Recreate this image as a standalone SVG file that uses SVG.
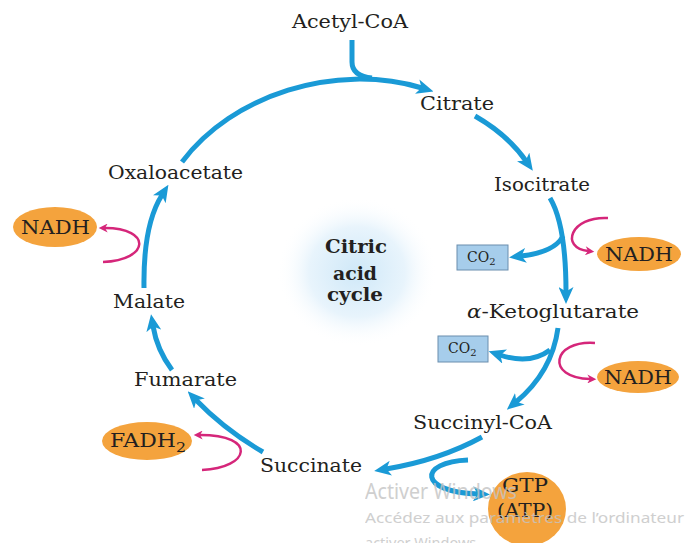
<svg xmlns="http://www.w3.org/2000/svg" width="687" height="543" viewBox="0 0 687 543">
<style>
.lbl{font-family:"DejaVu Serif","Liberation Serif",serif;font-size:18px;fill:#231f20}
.ctr{font-family:"DejaVu Serif","Liberation Serif",serif;font-size:19px;font-weight:bold;fill:#231f20}
.prod{font-family:"DejaVu Serif","Liberation Serif",serif;font-size:18px;fill:#231f20}
.co2t{font-family:"DejaVu Serif","Liberation Serif",serif;font-size:14px;fill:#231f20}
.ell{fill:#f4a33d}
.box{fill:#a6cdeb;stroke:#6a8eae;stroke-width:1}
.blue{fill:none;stroke:#1a9ad6;stroke-width:5;marker-end:url(#ab)}
.bluen{fill:none;stroke:#1a9ad6;stroke-width:5}
.mag{fill:none;stroke:#d5267a;stroke-width:2.5;marker-end:url(#am)}
.wm{font-family:"Noto Sans","Open Sans",sans-serif;fill:#c4c4c4;opacity:0.8}
</style>
<defs>
<marker id="ab" viewBox="0 0 17 15" refX="5" refY="7.5" markerWidth="17" markerHeight="15" markerUnits="userSpaceOnUse" orient="auto">
<path d="M0,0 L17,7.5 L0,15 L4.5,7.5 z" fill="#1a9ad6"/>
</marker>
<marker id="am" viewBox="0 0 10 10" refX="3" refY="5" markerWidth="10" markerHeight="9" markerUnits="userSpaceOnUse" orient="auto">
<path d="M0,0 L10,5 L0,10 L3,5 z" fill="#d5267a"/>
</marker>
<radialGradient id="glow" cx="0.5" cy="0.5" r="0.5">
<stop offset="0" stop-color="#cfe8f8"/>
<stop offset="0.6" stop-color="#e8f4fc"/>
<stop offset="1" stop-color="#ffffff" stop-opacity="0"/>
</radialGradient>
</defs>
<rect width="687" height="543" fill="#ffffff"/>
<ellipse cx="357" cy="272" rx="80" ry="75" fill="url(#glow)"/>

<g id="connectors">
<path class="blue" d="M182,162 C232,95 335,62 422,88"/>
<path class="bluen" d="M352,40 L352,62 Q352,76 372,78"/>
<path class="blue" d="M475,116 Q508,135 526,161"/>
<path class="blue" d="M550,198 Q566,225 566,292"/>
<path class="blue" d="M563,236 Q555,252 521,256"/>
<path class="blue" d="M558,328 Q552,372 516,402"/>
<path class="blue" d="M550,350 Q530,365 500,355"/>
<path class="blue" d="M482,437 Q440,460 386,469"/>
<path class="blue" d="M468,460 C418,462 418,492 478,494"/>
<path class="blue" d="M263,452 Q225,430 196,400"/>
<path class="blue" d="M172,370 Q157,350 153,326"/>
<path class="blue" d="M144,288 Q143,225 162,195"/>
<path class="mag" d="M103,262 C150,260 152,228 105,228"/>
<path class="mag" d="M608,218 C570,216 560,248 588,251"/>
<path class="mag" d="M595,343 C552,340 545,378 590,379"/>
<path class="mag" d="M202,470 C250,468 258,435 200,435"/>
</g>

<g id="center"><text class="ctr" x="325" y="253" textLength="62" lengthAdjust="spacingAndGlyphs">Citric</text><text class="ctr" x="333" y="280" textLength="44" lengthAdjust="spacingAndGlyphs">acid</text><text class="ctr" x="327" y="301" textLength="56" lengthAdjust="spacingAndGlyphs">cycle</text></g>

<g id="acetylcoa"><text class="lbl" x="292" y="28" textLength="116" lengthAdjust="spacingAndGlyphs">Acetyl-CoA</text></g>
<g id="citrate"><text class="lbl" x="420" y="110" textLength="74" lengthAdjust="spacingAndGlyphs">Citrate</text></g>
<g id="isocitrate"><text class="lbl" x="494" y="191" textLength="96" lengthAdjust="spacingAndGlyphs">Isocitrate</text></g>
<g id="ketoglutarate"><text class="lbl" x="467" y="318" textLength="172" lengthAdjust="spacingAndGlyphs"><tspan font-style="italic">α</tspan>-Ketoglutarate</text></g>
<g id="succinylcoa"><text class="lbl" x="413" y="429" textLength="139" lengthAdjust="spacingAndGlyphs">Succinyl-CoA</text></g>
<g id="succinate"><text class="lbl" x="260" y="472" textLength="102" lengthAdjust="spacingAndGlyphs">Succinate</text></g>
<g id="fumarate"><text class="lbl" x="134" y="386" textLength="103" lengthAdjust="spacingAndGlyphs">Fumarate</text></g>
<g id="malate"><text class="lbl" x="113" y="308" textLength="72" lengthAdjust="spacingAndGlyphs">Malate</text></g>
<g id="oxaloacetate"><text class="lbl" x="108" y="179" textLength="135" lengthAdjust="spacingAndGlyphs">Oxaloacetate</text></g>

<g id="nadh1"><ellipse class="ell" cx="55" cy="227" rx="42" ry="20"/><text class="prod" x="21" y="234" textLength="69" lengthAdjust="spacingAndGlyphs">NADH</text></g>
<g id="nadh2"><ellipse class="ell" cx="639" cy="254" rx="42" ry="17"/><text class="prod" x="605" y="261" textLength="68" lengthAdjust="spacingAndGlyphs">NADH</text></g>
<g id="nadh3"><ellipse class="ell" cx="638" cy="377" rx="41" ry="16"/><text class="prod" x="604" y="384" textLength="68" lengthAdjust="spacingAndGlyphs">NADH</text></g>
<g id="fadh2"><ellipse class="ell" cx="147" cy="441" rx="45" ry="19"/><text class="prod" x="110" y="447" textLength="76" lengthAdjust="spacingAndGlyphs">FADH<tspan font-size="13" dy="5">2</tspan></text></g>
<g id="gtp"><ellipse class="ell" cx="527" cy="509" rx="39" ry="37"/><text class="prod" x="502" y="492" textLength="46" lengthAdjust="spacingAndGlyphs">GTP</text><text class="prod" x="497" y="517" textLength="56" lengthAdjust="spacingAndGlyphs">(ATP)</text></g>
<g id="co2a"><rect class="box" x="457" y="245" width="51" height="25"/><text class="co2t" x="467" y="262">CO<tspan font-size="10" dy="3">2</tspan></text></g>
<g id="co2b"><rect class="box" x="438" y="336" width="50" height="26"/><text class="co2t" x="448" y="353">CO<tspan font-size="10" dy="3">2</tspan></text></g>

<g id="watermark">
<text class="wm" x="365" y="499" font-size="21" textLength="152" lengthAdjust="spacingAndGlyphs">Activer Windows</text>
<text class="wm" x="365" y="523" font-size="14.5" textLength="319" lengthAdjust="spacingAndGlyphs">Accédez aux paramètres de l’ordinateur</text>
<text class="wm" x="365" y="548" font-size="14.5">activer Windows</text>
</g>
</svg>
